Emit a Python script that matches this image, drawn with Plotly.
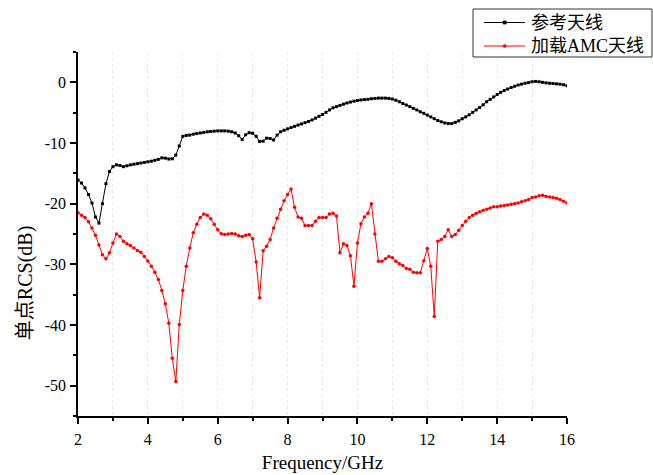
import plotly.graph_objects as go

# Frequency sweep, 2-16 GHz in 0.1 GHz steps
freq_ghz = [round(2.0 + 0.1 * i, 1) for i in range(141)]

# Monostatic RCS of the reference antenna (dB)
rcs_reference = [
    -16.1, -16.6, -17.4, -18.5, -19.9, -22.2, -23.2, -20.0, -16.7, -14.7,
    -13.9, -13.6, -13.7, -13.9, -13.75, -13.6, -13.5, -13.4, -13.3, -13.2,
    -13.1, -13.0, -12.85, -12.7, -12.45, -12.5, -12.65, -12.6, -12.0, -10.5,
    -8.9, -8.75, -8.7, -8.55, -8.45, -8.35, -8.25, -8.15, -8.1, -8.05,
    -8.0, -8.0, -8.0, -8.05, -8.15, -8.35, -8.8, -9.4, -8.65, -8.3,
    -8.4, -8.9, -9.75, -9.7, -9.2, -9.25, -9.5, -8.7, -8.15, -7.9,
    -7.67, -7.45, -7.25, -7.05, -6.85, -6.65, -6.45, -6.2, -5.9, -5.6,
    -5.3, -4.95, -4.55, -4.2, -4.0, -3.8, -3.6, -3.4, -3.25, -3.1,
    -3.0, -2.9, -2.85, -2.8, -2.7, -2.65, -2.6, -2.6, -2.6, -2.65,
    -2.75, -2.95, -3.2, -3.5, -3.75, -4.0, -4.3, -4.55, -4.85, -5.1,
    -5.4, -5.7, -6.0, -6.3, -6.5, -6.7, -6.8, -6.8, -6.6, -6.35,
    -6.0, -5.7, -5.35, -4.95, -4.55, -4.15, -3.7, -3.2, -2.8, -2.4,
    -2.0, -1.65, -1.35, -1.1, -0.85, -0.65, -0.45, -0.3, -0.15, -0.05,
    0.1, 0.15, 0.1, 0.0, -0.1, -0.15, -0.2, -0.25, -0.3, -0.4,
    -0.55,
]

# Monostatic RCS of the antenna loaded with the AMC (dB)
rcs_amc = [
    -21.5, -21.9, -22.3, -23.0, -24.0, -25.2, -26.8, -28.4, -29.1, -28.1,
    -26.5, -25.0, -25.4, -26.2, -26.6, -26.9, -27.3, -27.7, -28.0, -28.7,
    -29.45, -30.3, -31.3, -32.5, -34.3, -36.5, -39.7, -45.5, -49.3, -39.9,
    -34.3, -30.3, -27.3, -24.8, -23.4, -22.3, -21.7, -21.9, -22.5, -23.4,
    -24.3, -24.96, -25.1, -25.0, -24.9, -25.0, -25.3, -25.4, -25.2, -25.1,
    -25.8, -29.6, -35.5, -27.75, -27.0, -25.9, -24.0, -22.4, -20.9, -19.5,
    -18.5, -17.6, -20.6, -22.2, -22.4, -23.6, -23.6, -23.6, -22.9, -22.3,
    -22.3, -22.3, -21.7, -21.6, -22.05, -28.1, -26.6, -26.9, -28.6, -33.6,
    -26.5, -23.3, -22.2, -21.6, -20.0, -25.0, -29.5, -29.5, -29.1, -28.7,
    -28.9, -29.5, -29.9, -30.2, -30.7, -30.8, -31.3, -31.4, -31.4, -29.4,
    -27.4, -30.3, -38.6, -26.2, -25.9, -25.4, -24.3, -25.4, -25.1, -24.4,
    -23.6, -22.9, -22.3, -21.9, -21.6, -21.35, -21.1, -20.9, -20.7, -20.5,
    -20.5, -20.4, -20.3, -20.2, -20.1, -20.0, -19.9, -19.7, -19.5, -19.3,
    -19.0, -18.9, -18.7, -18.6, -18.8, -18.9, -19.0, -19.1, -19.3, -19.6,
    -19.9,
]

x_ticks = [2, 4, 6, 8, 10, 12, 14, 16]
y_ticks = [0, -10, -20, -30, -40, -50]
series_names = ["参考天线", "加载AMC天线"]
series_colors = ["#000000", "#ff0000"]
series_symbols = ["square", "circle"]
x_title = "Frequency/GHz"
y_title = "单点RCS(dB)"

serif = "Liberation Serif, Times New Roman, Noto Sans CJK SC, serif"

W, H = 653, 475
M = dict(l=78, r=86, t=52, b=59)
plot_w = W - M["l"] - M["r"]
plot_h = H - M["t"] - M["b"]


def px_to_paper(px, py):
    """Convert page pixel coordinates to paper coordinates."""
    return (px - M["l"]) / plot_w, (H - M["b"] - py) / plot_h


fig = go.Figure()
for name, ys, color, sym in zip(series_names, [rcs_reference, rcs_amc],
                                series_colors, series_symbols):
    fig.add_trace(go.Scatter(
        x=freq_ghz, y=ys, name=name, mode="lines+markers",
        line=dict(color=color, width=1),
        marker=dict(symbol=sym, size=3.5 if sym == "circle" else 3, color=color),
        showlegend=False,
    ))

# Boxed legend in the top-right corner
shapes = []
annotations = []
bx0, by0 = px_to_paper(473, 57)
bx1, by1 = px_to_paper(652, 9)
shapes.append(dict(type="rect", xref="paper", yref="paper",
                   x0=bx0, y0=by0, x1=bx1, y1=by1,
                   line=dict(color="#333333", width=1), fillcolor="white"))
for i, (name, color, sym) in enumerate(zip(series_names, series_colors, series_symbols)):
    row_y = 22.5 + i * 23.5
    lx0, ly = px_to_paper(484, row_y)
    lx1, _ = px_to_paper(525, row_y)
    shapes.append(dict(type="line", xref="paper", yref="paper",
                       x0=lx0, y0=ly, x1=lx1, y1=ly,
                       line=dict(color=color, width=1)))
    mx0, my0 = px_to_paper(503, row_y + 1.6)
    mx1, my1 = px_to_paper(506.2, row_y - 1.6)
    shapes.append(dict(type="rect" if sym == "square" else "circle",
                       xref="paper", yref="paper",
                       x0=mx0, y0=my0, x1=mx1, y1=my1,
                       line=dict(color=color, width=0.5), fillcolor=color))
    tx, ty = px_to_paper(529, row_y)
    annotations.append(dict(text=name, xref="paper", yref="paper", x=tx, y=ty,
                            xanchor="left", yanchor="middle", showarrow=False,
                            font=dict(family=serif, size=18, color="#000000")))

annotations.append(dict(
    text=y_title, textangle=-90, xref="paper", yref="paper",
    x=0, xshift=-53, y=0.365, xanchor="center", yanchor="middle",
    showarrow=False, font=dict(family=serif, size=20, color="#000000"),
))

fig.update_layout(
    width=W, height=H,
    margin=dict(l=M["l"], r=M["r"], t=M["t"], b=M["b"], autoexpand=False),
    paper_bgcolor="white", plot_bgcolor="white",
    font=dict(family=serif, size=16, color="#000000"),
    showlegend=False,
    shapes=shapes,
    annotations=annotations,
)

fig.update_xaxes(
    range=[2, 16], tickvals=x_ticks, ticktext=[str(v) for v in x_ticks],
    showline=True, linecolor="#000000", linewidth=1.5, mirror=False,
    ticks="outside", ticklen=6, tickwidth=1.5, tickcolor="#000000",
    ticklabelstandoff=2, automargin=False,
    showgrid=True, gridcolor="#e6e6e6", gridwidth=1, griddash="dot",
    minor=dict(dtick=1, tick0=2, ticks="outside", ticklen=3.5, tickwidth=1.5,
               tickcolor="#000000", showgrid=True, gridcolor="#e6e6e6",
               griddash="dot"),
    zeroline=False,
    tickfont=dict(family=serif, size=16),
    title=dict(text=x_title, font=dict(family=serif, size=19), standoff=9),
)
fig.update_yaxes(
    range=[-55, 5], tickvals=y_ticks, ticktext=[str(v) for v in y_ticks],
    showline=True, linecolor="#000000", linewidth=1.5, mirror=False,
    ticks="outside", ticklen=6, tickwidth=1.5, tickcolor="#000000",
    ticklabelstandoff=1, automargin=False,
    showgrid=False, zeroline=False,
    minor=dict(dtick=5, tick0=0, ticks="outside", ticklen=3.5, tickwidth=1.5,
               tickcolor="#000000", showgrid=False),
    tickfont=dict(family=serif, size=16),
)

fig.write_html("out.html")
